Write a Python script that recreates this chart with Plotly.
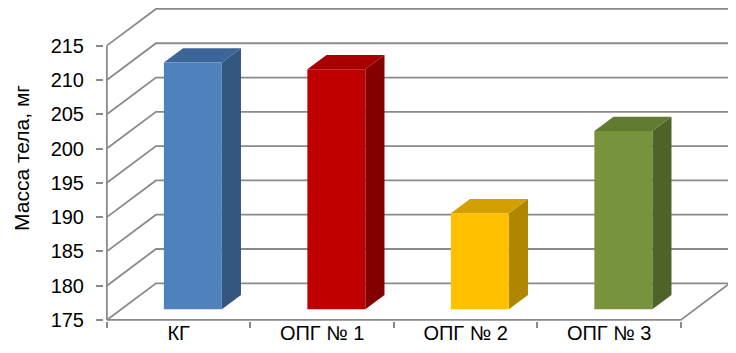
import plotly.graph_objects as go

categories = ["КГ", "ОПГ № 1", "ОПГ № 2", "ОПГ № 3"]
values = [211, 210, 189, 201]
y_ticks = [175, 180, 185, 190, 195, 200, 205, 210, 215]
y_title = "Масса тела, мг"

front_colors = ["#4F81BD", "#C00000", "#FFC000", "#77933C"]
top_colors = ["#3D6597", "#A80000", "#D2A000", "#617B30"]
side_colors = ["#34567F", "#820000", "#B08600", "#4F6228"]

# pseudo-3D projection (depth offset of back wall in data units)
OX, OY = 0.342, 5.35
F0, F1 = 0.29, 0.68   # bar front / back depth fraction
HW = 0.202            # half width of bar front face
BASE = y_ticks[0]
TOP = y_ticks[-1]
N = len(categories)
GRID = "#8a8a8a"

def proj(x, v, f):
    return x + f * OX, v + f * OY

fig = go.Figure()

# back wall gridlines + left diagonals
for v in y_ticks:
    x0, y0 = proj(0, v, 1)
    x1, y1 = proj(N, v, 1)
    fig.add_trace(go.Scatter(x=[0, x0, x1], y=[v, y0, y1], mode="lines",
                             line=dict(color=GRID, width=1.8), hoverinfo="skip", showlegend=False))
# floor front edge and right diagonal
xr, yr = proj(N, BASE, 1)
fig.add_trace(go.Scatter(x=[0, N, xr], y=[BASE, BASE, yr], mode="lines",
                         line=dict(color=GRID, width=1.8), hoverinfo="skip", showlegend=False))
# front vertical axis line
fig.add_trace(go.Scatter(x=[0, 0], y=[BASE, TOP], mode="lines",
                         line=dict(color=GRID, width=1.8), hoverinfo="skip", showlegend=False))

# bars
for i, (cat, val) in enumerate(zip(categories, values)):
    c = i + 0.5
    xl, xrr = c - HW, c + HW
    # side face
    pts = [proj(xrr, BASE, F0), proj(xrr, BASE, F1), proj(xrr, val, F1), proj(xrr, val, F0)]
    fig.add_trace(go.Scatter(x=[p[0] for p in pts], y=[p[1] for p in pts], fill="toself",
                             mode="lines", line=dict(width=0, color=side_colors[i]),
                             fillcolor=side_colors[i], hoverinfo="skip", showlegend=False))
    # top face
    pts = [proj(xl, val, F0), proj(xrr, val, F0), proj(xrr, val, F1), proj(xl, val, F1)]
    fig.add_trace(go.Scatter(x=[p[0] for p in pts], y=[p[1] for p in pts], fill="toself",
                             mode="lines", line=dict(width=0, color=top_colors[i]),
                             fillcolor=top_colors[i], hoverinfo="skip", showlegend=False))
    # front face
    pts = [proj(xl, BASE, F0), proj(xrr, BASE, F0), proj(xrr, val, F0), proj(xl, val, F0)]
    fig.add_trace(go.Scatter(x=[p[0] for p in pts], y=[p[1] for p in pts], fill="toself",
                             mode="lines", line=dict(width=0, color=front_colors[i]),
                             fillcolor=front_colors[i], name=cat,
                             hovertemplate=f"{cat}: {val}<extra></extra>", showlegend=False))

font_fam = "Liberation Sans, Arial, sans-serif"
W, H = 728, 345
L, R, T, B = 96, 3, 0, 32
plot_h = H - T - B
ymin = 174.85
ymax = ymin + plot_h / 6.858

fig.update_layout(
    width=W, height=H,
    margin=dict(l=L, r=R, t=T, b=B, pad=0),
    plot_bgcolor="white", paper_bgcolor="white",
    font=dict(family=font_fam, size=20, color="black"),
    xaxis=dict(range=[-0.02, -0.02 + (W - L - R) / 143.5], showgrid=False, zeroline=False, showline=False,
               tickmode="array", tickvals=[i + 0.5 for i in range(N)], ticktext=categories,
               ticks="outside", ticklen=0, tickcolor="rgba(0,0,0,0)", ticklabelstandoff=-6,
               minor=dict(tickmode="array", tickvals=list(range(N + 1)), ticks="outside",
                          ticklen=6, tickcolor=GRID, tickwidth=1.5, showgrid=False),
               tickfont=dict(size=20)),
    yaxis=dict(range=[ymin, ymax], showgrid=False, zeroline=False, showline=False,
               tickmode="array", tickvals=y_ticks, ticks="outside", ticklen=7,
               tickcolor=GRID, tickwidth=1.5, ticklabelstandoff=8,
               tickfont=dict(size=20)),
    annotations=[dict(text=y_title, textangle=-90, xref="paper", yref="paper",
                      x=(13 - L) / (W - L - R), y=(plot_h - 150) / plot_h,
                      xanchor="center", yanchor="middle",
                      showarrow=False, font=dict(size=21))],
)

fig.write_html("out.html")
